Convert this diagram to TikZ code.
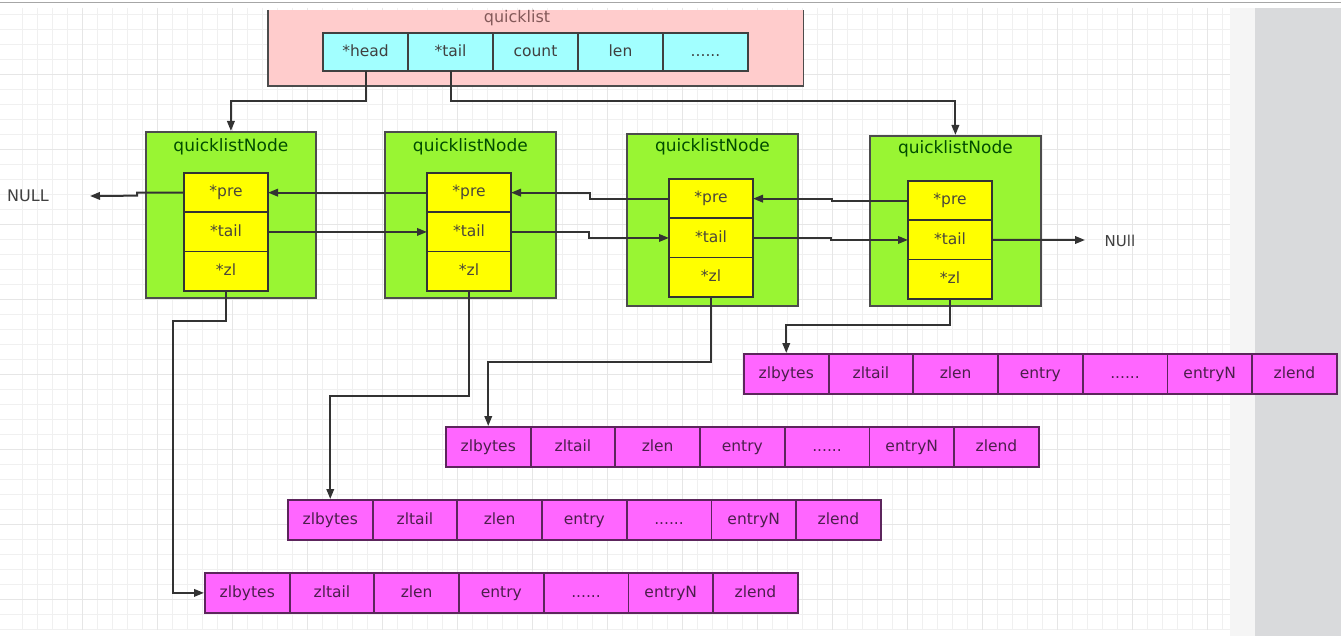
\documentclass[tikz,border=0pt]{standalone}
\usepackage{fontspec}
\setmainfont{DejaVu Sans}
\usetikzlibrary{arrows.meta,positioning,calc}
\definecolor{qlpink}{HTML}{FFCCCC}
\definecolor{qlcyan}{HTML}{A2FFFF}
\definecolor{qlgreen}{HTML}{99F533}
\definecolor{qlyellow}{HTML}{FFFF00}
\definecolor{qlmag}{HTML}{FF66FF}
\definecolor{gridc}{HTML}{F0F0F0}
\definecolor{gridm}{HTML}{E6E6E6}
\definecolor{panel}{HTML}{D9DADC}
\definecolor{wire}{HTML}{333333}
\newcommand{\sixdots}{......}

\begin{document}
\begin{tikzpicture}[x=1pt,y=-1pt,>={Triangle[length=10pt,width=7.5pt]},
 head/.style={draw=black!75,line width=1.8pt,fill=qlcyan,minimum width=85pt,minimum height=38pt,inner sep=0pt,outer sep=0pt,
   font=\fontsize{15.5}{18}\selectfont,text=black!75,text height=11.5pt,text depth=3pt},
 nodebox/.style={draw=black!70,line width=1.8pt,fill=qlgreen,anchor=north west,inner sep=0pt},
 ttl/.style={font=\fontsize{17}{20}\selectfont,text=green!30!black},
 ptr/.style={draw=black!80,line width=1.8pt,fill=qlyellow,minimum width=84pt,minimum height=39.3pt,inner sep=0pt,outer sep=0pt,
   font=\fontsize{15.5}{18}\selectfont,text=black!70!yellow!60!black,text height=11.5pt,text depth=3pt},
 zcell/.style={draw=black!40!qlmag!60!black,line width=1.8pt,fill=qlmag,anchor=north west,minimum width=84.7pt,
   minimum height=40pt,inner sep=0pt,font=\fontsize{15.5}{18}\selectfont,text=qlmag!30!black,text height=11.5pt,text depth=3pt},
 arr/.style={->,line width=2pt,wire}]
 % background: grid sheet and side panel
 \useasboundingbox (0,0) rectangle (1341,636);
 \fill[white] (0,0) rectangle (1341,636);
 \foreach \gx in {22.7,37.7,...,1230} \draw[gridc,line width=1pt] (\gx,8) -- (\gx,630);
 \foreach \gy in {14.3,29.3,...,630} \draw[gridc,line width=1pt] (0,\gy) -- (1230,\gy);
 \foreach \gx in {82.7,157.7,...,1230} \draw[gridm,line width=1.2pt] (\gx,8) -- (\gx,630);
 \foreach \gy in {74.3,149.3,...,630} \draw[gridm,line width=1.2pt] (0,\gy) -- (1230,\gy);
 \fill[black!4] (1230,8) rectangle (1255,636);
 \fill[panel] (1255,8) rectangle (1341,636);
 \draw[black!35,line width=1.5pt] (0,2.5) -- (1341,2.5);

 % quicklist header
 \node[fill=qlpink,anchor=north west,minimum width=535pt,minimum height=76pt,inner sep=0pt] (qlist) at (268,10) {};
 \draw[black!70,line width=1.8pt] (qlist.north west) |- (qlist.south east) -- (qlist.north east);
 \node[font=\fontsize{16}{19}\selectfont,text=red!25!black!65] (qtitle) at (517,18) {quicklist};
 \node[head,anchor=north west] (hd) at (323,33) {*head};
 \node[head,right=0pt of hd] (tl) {*tail};
 \node[head,right=0pt of tl] (cnt) {count};
 \node[head,right=0pt of cnt] (len) {len};
 \node[head,right=0pt of len] (more) {\sixdots};

 % quicklistNode boxes
 \node[nodebox,minimum width=170pt,minimum height=166pt] (qn1) at (145,131) {};
 \node[nodebox,minimum width=171pt,minimum height=166pt] (qn2) at (384,131) {};
 \node[nodebox,minimum width=171pt,minimum height=172pt] (qn3) at (626,133) {};
 \node[nodebox,minimum width=171pt,minimum height=170pt] (qn4) at (869,135) {};
 \foreach \n/\ty in {1/16,2/16,3/14,4/14}
   \node[ttl] (t\n) at ($(qn\n.north)+(0,\ty)$) {quicklistNode};
 \foreach \n/\px/\py in {1/184/173,2/427/173,3/669/179,4/908/181} {
   \node[ptr,anchor=north west] (pre\n) at (\px,\py) {*pre};
   \node[ptr,below=0pt of pre\n] (tl\n) {*tail};
   \node[ptr,below=0pt of tl\n] (zl\n) {*zl};
 }

 % ziplists
 \foreach \r/\lx/\ly in {1/743/353,2/445/426,3/287/499,4/204/572}
   \foreach \t [count=\i] in {zlbytes,zltail,zlen,entry,\sixdots,entryN,zlend}
     \node[zcell] (z\r-\i) at ({\lx+84.7*(\i-1)},\ly) {\t};

 % NULL ends
 \node[font=\fontsize{16}{19}\selectfont,text=black!75] (nullL) at (28,196) {NULL};
 \coordinate (nullLend) at (90,196);
 \node[font=\fontsize{15}{18}\selectfont,text=black!75] (nullR) at (1120,241) {NUll};
 \coordinate (nullRend) at (1085,240);

 % head / tail of quicklist
 \draw[arr] (hd.south) -- ++(0,30) -| (qn1.north);
 \draw[arr] (tl.south) -- ++(0,30) -| (qn4.north);
 % prev / next links
 \draw[arr] (pre1.west) -| ++(-47,3) -- (nullLend);
 \draw[arr] (pre2.west) -- (pre1.east);
 \draw[arr] (tl1.east) -- (tl2.west);
 \draw[arr] (pre3.west) -- ++(-79,0) |- (pre2.east);
 \draw[arr] (tl2.east) -- ++(78,0) |- (tl3.west);
 \draw[arr] (pre4.west) -- ++(-76,0) |- (pre3.east);
 \draw[arr] (tl3.east) -- ++(78,0) |- (tl4.west);
 \draw[arr] (tl4.east) -- (nullRend);
 % zl pointers
 \draw[arr] (zl1.south) -- ++(0,30) -| ($(z4-1.west)+(-31,0)$) -- (z4-1.west);
 \draw[arr] (zl2.south) -- ++(0,105) -| (z3-1.north);
 \draw[arr] (zl3.south) -- ++(0,65) -| (z2-1.north);
 \draw[arr] (zl4.south) -- ++(0,26) -| (z1-1.north);
\end{tikzpicture}
\end{document}
